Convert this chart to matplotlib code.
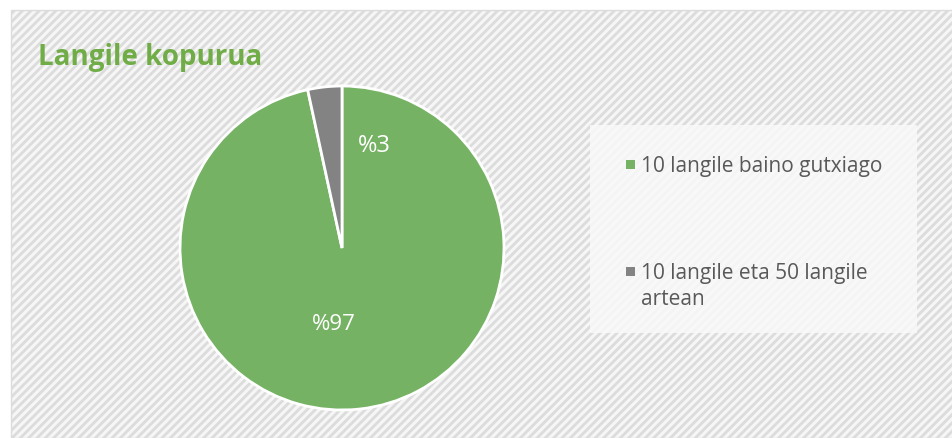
import matplotlib.pyplot as plt
from matplotlib.patches import Rectangle

# Data
categories = ['10 langile baino gutxiago', '10 langile eta 50 langile\nartean']
shares = [96.6, 3.4]
pct_labels = ['%97', '%3']
colors = ['#75B263', '#838383']

plt.rcParams['font.family'] = ['Open Sans', 'DejaVu Sans']
plt.rcParams['hatch.linewidth'] = 2.0
plt.rcParams['hatch.color'] = '#E6E6E6'

W, H = 953, 438
fig = plt.figure(figsize=(W / 100, H / 100), dpi=100)
fig.patch.set_facecolor('white')

# Chart area background with diagonal stripes
bg = Rectangle((11 / W, 0), 1 - 11 / W, 1 - 10 / H, transform=fig.transFigure,
               facecolor='#F6F6F6', edgecolor='#DCDCDC', hatch='////', linewidth=1.0,
               zorder=-2)
fig.patches.append(bg)

# Legend box
lg = Rectangle((590 / W, 1 - 333 / H), 327 / W, 208 / H, transform=fig.transFigure,
               facecolor='#F9F9F9', edgecolor='none', alpha=0.85, zorder=-1)
fig.patches.append(lg)

# Title
fig.text(38 / W, 1 - 57 / H, 'Langile kopurua', color='#70AD47', fontsize=20,
         fontweight='bold', va='center', ha='left')

# Pie
cx, cy, r = 342, H - 248, 162
ax = fig.add_axes([(cx - r) / W, (cy - r) / H, 2 * r / W, 2 * r / H])
ax.patch.set_alpha(0)
wedges, _ = ax.pie(shares, colors=colors, startangle=90, counterclock=False,
                   radius=1, wedgeprops=dict(edgecolor='white', linewidth=2))
ax.set_xlim(-1.0, 1.0)
ax.set_ylim(-1.0, 1.0)
ax.set_aspect('equal')
ax.axis('off')

# Percentage labels
ax.text(-0.05, -0.47, pct_labels[0], color='white', fontsize=16, ha='center', va='center')
ax.text(0.20, 0.63, pct_labels[1], color='white', fontsize=17, ha='center', va='center')

# Legend (drawn by hand so the marker sits on the first line)
legend_y = [172, 279]
line_gap = 26
for lab, col, y in zip(categories, colors, legend_y):
    fig.patches.append(Rectangle((626 / W, 1 - (y - 3) / H), 9 / W, 9 / H,
                                 transform=fig.transFigure, facecolor=col,
                                 edgecolor='none'))
    for i, line in enumerate(lab.split('\n')):
        fig.text(641 / W, 1 - (y + i * line_gap) / H, line, color='#595959',
                 fontsize=15, ha='left', va='baseline')

fig.savefig('out.png', dpi=100)
